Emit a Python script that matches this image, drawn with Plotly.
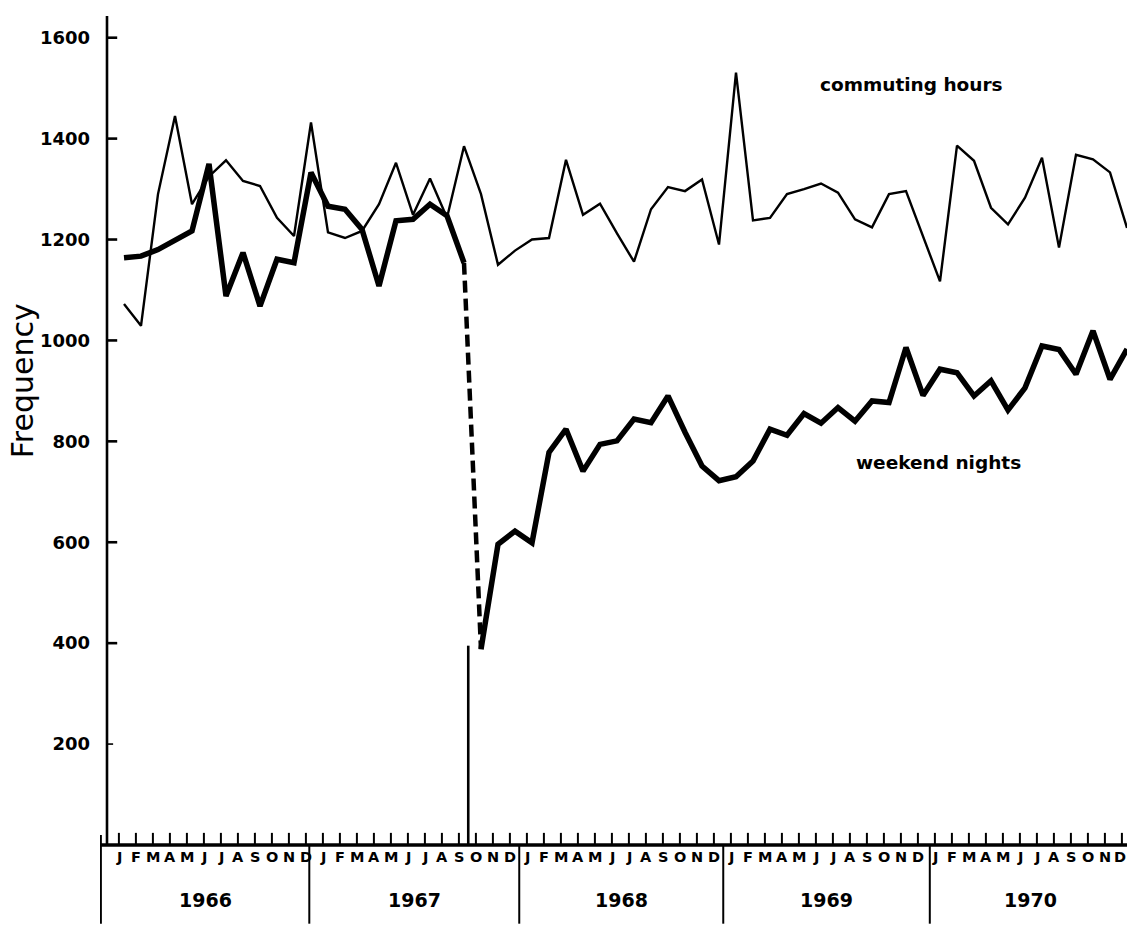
import plotly.graph_objects as go

# ---------------- data ----------------
years = ["1966", "1967", "1968", "1969", "1970"]
month_letters = ["J", "F", "M", "A", "M", "J", "J", "A", "S", "O", "N", "D"]

# monthly series Jan 1966 .. Dec 1970 (month index 0..59)
commuting_hours = [
    1072, 1029, 1290, 1445, 1270, 1325, 1357, 1316, 1306, 1243, 1207, 1432,   # 1966
    1214, 1203, 1217, 1270, 1352, 1249, 1321, 1243, 1385, 1290, 1150, 1178,   # 1967
    1200, 1203, 1358, 1249, 1271, 1212, 1156, 1260, 1304, 1296, 1319, 1190,   # 1968
    1531, 1238, 1243, 1290, 1300, 1311, 1293, 1240, 1224, 1290, 1296, 1205,   # 1969
    1117, 1386, 1356, 1263, 1230, 1283, 1362, 1184, 1368, 1359, 1333, 1223,   # 1970
]
weekend_nights = [
    1164, 1167, 1180, 1197, 1217, 1350, 1088, 1174, 1068, 1161, 1154, 1333,   # 1966
    1266, 1260, 1220, 1108, 1237, 1240, 1270, 1247, 1154, 388, 596, 622,      # 1967
    599, 778, 824, 741, 794, 801, 844, 837, 890, 818, 751, 722,               # 1968
    730, 761, 824, 812, 855, 836, 867, 840, 880, 877, 986, 891,               # 1969
    943, 936, 890, 920, 862, 906, 989, 982, 933, 1019, 923, 983,              # 1970
]
y_ticks = [200, 400, 600, 800, 1000, 1200, 1400, 1600]
breathalyser_month = 20.25       # early October 1967 (month index)
breathalyser_marker_top = 395

months = list(range(len(commuting_hours)))
cut = 20  # last month before the crackdown (Sep 1967)

# ---------------- layout geometry ----------------
W, H = 1127, 939
X_RANGE = [-1.412, 59.0]
Y_RANGE = [-158.6, 1645]
FONT = "DejaVu Sans"

fig = go.Figure()

# commuting hours (thin)
fig.add_trace(go.Scatter(x=months, y=commuting_hours, mode="lines",
                         line=dict(color="black", width=2.4),
                         hoverinfo="skip", showlegend=False))
# weekend nights before
fig.add_trace(go.Scatter(x=months[:cut + 1], y=weekend_nights[:cut + 1], mode="lines",
                         line=dict(color="black", width=5.5),
                         hoverinfo="skip", showlegend=False))
# dashed drop
fig.add_trace(go.Scatter(x=months[cut:cut + 2], y=weekend_nights[cut:cut + 2], mode="lines",
                         line=dict(color="black", width=4.5, dash="12px,6px"),
                         hoverinfo="skip", showlegend=False))
# weekend nights after
fig.add_trace(go.Scatter(x=months[cut + 1:], y=weekend_nights[cut + 1:], mode="lines",
                         line=dict(color="black", width=5.5),
                         hoverinfo="skip", showlegend=False))
# intervention marker
fig.add_trace(go.Scatter(x=[breathalyser_month, breathalyser_month], y=[0, breathalyser_marker_top],
                         mode="lines", line=dict(color="black", width=2.6),
                         hoverinfo="skip", showlegend=False))

shapes = []
# y axis line
yaxis_x = -1.0
shapes.append(dict(type="line", xref="x", yref="y", x0=yaxis_x, x1=yaxis_x, y0=0, y1=1643,
                   line=dict(color="black", width=2.6)))
for v in y_ticks:
    ln = 0.36 if v == 200 else 0.6
    shapes.append(dict(type="line", xref="x", yref="y", x0=yaxis_x, x1=yaxis_x + ln, y0=v, y1=v,
                       line=dict(color="black", width=1.6 if v == 200 else 2.6)))
# x axis line
shapes.append(dict(type="line", xref="x", yref="y", x0=X_RANGE[0], x1=X_RANGE[1], y0=0, y1=0,
                   line=dict(color="black", width=3.5)))
# month ticks
tick_pos = [k - 0.3 for k in range(60)]
for t in tick_pos:
    shapes.append(dict(type="line", xref="x", yref="y", x0=t, x1=t, y0=0, y1=24,
                       line=dict(color="black", width=2)))
# year boxes below the axis
dividers = [-1.36, 10.9, 23.25, 35.25, 47.4]
for d in dividers:
    shapes.append(dict(type="line", xref="x", yref="y", x0=d, x1=d, y0=0 if d > 0 else 20, y1=-156,
                       line=dict(color="black", width=2)))

annotations = []
for k, t in enumerate(tick_pos):
    annotations.append(dict(x=t if k < 59 else t - 0.1, y=-24, xref="x", yref="y",
                            text="<b>%s</b>" % month_letters[k % 12],
                            showarrow=False, font=dict(family=FONT, size=14.5, color="black"),
                            xanchor="center", yanchor="middle"))
year_ends = dividers + [59.2]
for i, yr in enumerate(years):
    annotations.append(dict(x=(year_ends[i] + year_ends[i + 1]) / 2, y=-110, xref="x", yref="y",
                            text="<b>%s</b>" % yr, showarrow=False,
                            font=dict(family=FONT, size=19, color="black"),
                            xanchor="center", yanchor="middle"))
# series labels
annotations.append(dict(x=46.3, y=1508, xref="x", yref="y", text="<b>commuting hours</b>",
                        showarrow=False, font=dict(family=FONT, size=18.5, color="black"),
                        xanchor="center", yanchor="middle"))
annotations.append(dict(x=47.9, y=758, xref="x", yref="y", text="<b>weekend nights</b>",
                        showarrow=False, font=dict(family=FONT, size=18.5, color="black"),
                        xanchor="center", yanchor="middle"))
# y axis title
annotations.append(dict(x=-0.0755, y=920, xref="paper", yref="y", text="Frequency",
                        textangle=-90, showarrow=False,
                        font=dict(family=FONT, size=30, color="black"),
                        xanchor="center", yanchor="middle"))

fig.update_layout(
    width=W, height=H,
    margin=dict(l=100, r=0, t=15, b=14),
    paper_bgcolor="white", plot_bgcolor="white",
    xaxis=dict(range=X_RANGE, showgrid=False, zeroline=False, showticklabels=False,
               ticks="", showline=False, fixedrange=True),
    yaxis=dict(range=Y_RANGE, showgrid=False, zeroline=False, showline=False, ticks="",
               tickmode="array", tickvals=y_ticks, ticktext=["<b>%d</b>" % v for v in y_ticks],
               tickfont=dict(family=FONT, size=18, color="black"),
               ticklabelstandoff=9, fixedrange=True),
    shapes=shapes,
    annotations=annotations,
)

# remove the browser's default 8px page margin so the figure fills the window exactly
fig.write_html("out.html",
               config={"displayModeBar": False},
               post_script="document.body.style.margin='0px';document.body.style.overflow='hidden';")
